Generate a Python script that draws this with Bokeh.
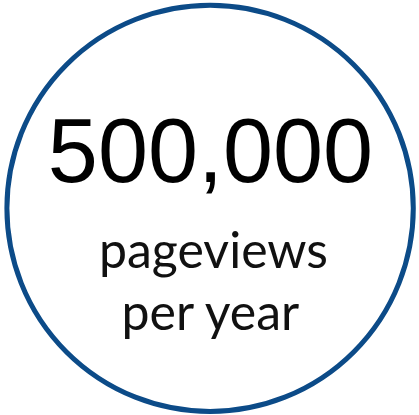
from bokeh.plotting import figure
from bokeh.models import Range1d
from bokeh.core.properties import value
from bokeh.embed import file_html
from bokeh.resources import INLINE

# --- content ---
headline = ["500,000"]
subtitle_lines = ["pageviews", "per year"]

W, H = 419, 415
p = figure(width=W, height=H, output_backend="svg", toolbar_location=None,
           x_range=Range1d(0, W), y_range=Range1d(H, 0),
           min_border=0, outline_line_color=None)
p.axis.visible = False
p.grid.visible = False
p.background_fill_color = "white"
p.border_fill_color = "white"

# ring
p.circle(x=[209.6], y=[207.8], radius=203.2, fill_color=None,
         line_color="#0c4b88", line_width=5)

# big number
p.text(x=[210], y=[150], text=headline, text_align="center",
       text_baseline="alphabetic", text_font=value("Liberation Sans"),
       text_font_size="90px", text_color="#000000")

# subtitle
p.text(x=[213, 211], y=[248.5, 310.5], text=subtitle_lines, text_align="center",
       text_baseline="alphabetic", text_font=value("Lato"),
       text_font_size="50px", text_color="#111111")

open("out.html", "w").write(file_html(p, INLINE))
